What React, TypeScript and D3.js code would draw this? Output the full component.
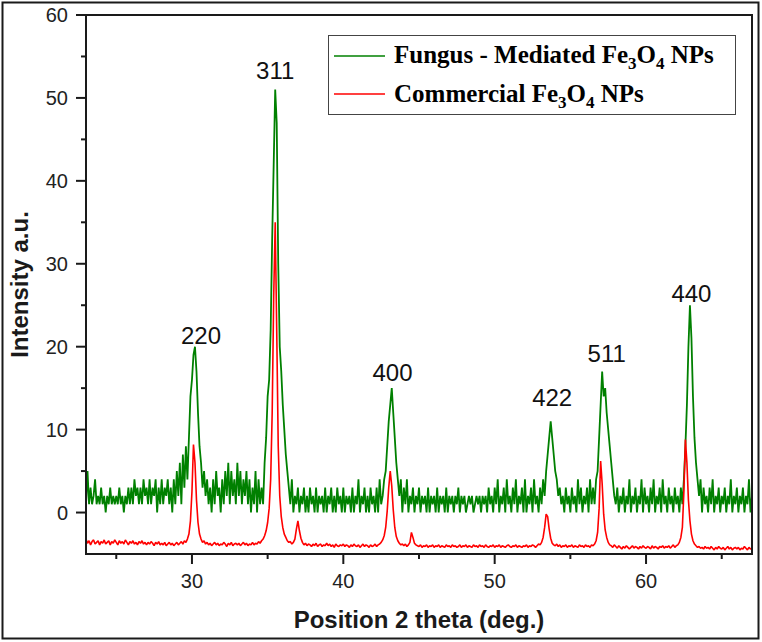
import React from 'react'
import * as d3 from 'd3'

// XRD scan, 0.1 deg steps starting at 23 deg
const THETA_START = 23
const THETA_STEP = 0.1

// Fungus-mediated Fe3O4 (one row per degree, 23..66, then 67)
const fungusCounts = [
  1, 5, 1, 3, 1, 2, 4, 1, 2, 1,
  3, 1, 2, 0, 2, 1, 3, 1, 2, 1,
  2, 1, 3, 1, 2, 0, 2, 1, 3, 1,
  3, 1, 4, 2, 3, 1, 3, 1, 4, 2,
  3, 1, 4, 1, 3, 2, 4, 0, 3, 1,
  4, 1, 3, 2, 4, 1, 3, 0, 4, 1,
  5, 2, 6, 1, 7, 3, 8, 4, 9, 14,
  16, 19, 20, 17, 12, 8, 6, 3, 5, 2,
  4, 1, 3, 0, 4, 1, 5, 2, 3, 0,
  4, 1, 5, 2, 6, 1, 5, 2, 4, 1,
  6, 2, 5, 1, 4, 2, 5, 1, 4, 0,
  3, 1, 5, 0, 4, 1, 3, 1, 6, 9,
  14, 16, 22, 33, 42, 51, 47, 30, 20, 17,
  13, 10, 7, 5, 3, 1, 4, 0, 2, 1,
  3, 0, 2, 1, 3, 0, 2, 0, 3, 1,
  2, 0, 3, 0, 2, 1, 2, 0, 3, 0,
  2, 1, 3, 0, 2, 0, 3, 1, 2, 0,
  3, 0, 2, 1, 2, 0, 3, 0, 2, 1,
  4, 0, 2, 1, 3, 0, 2, 0, 3, 1,
  2, 0, 3, 0, 4, 1, 2, 4, 5, 8,
  11, 13, 15, 12, 9, 6, 4, 2, 4, 0,
  3, 1, 4, 0, 2, 1, 3, 0, 2, 1,
  3, 0, 2, 1, 2, 0, 3, 0, 2, 1,
  2, 0, 3, 0, 2, 1, 2, 0, 3, 0,
  2, 1, 2, 0, 2, 1, 3, 0, 2, 1,
  2, 0, 1, 2, 1, 2, 0, 1, 2, 1,
  2, 0, 2, 1, 2, 0, 3, 1, 2, 0,
  3, 1, 4, 0, 2, 1, 3, 0, 4, 1,
  2, 0, 3, 1, 4, 0, 2, 1, 3, 0,
  4, 0, 2, 1, 3, 0, 4, 1, 2, 0,
  3, 1, 4, 2, 5, 7, 9, 11, 9, 7,
  5, 4, 2, 3, 1, 2, 0, 3, 1, 2,
  0, 3, 1, 2, 0, 4, 1, 3, 0, 2,
  1, 3, 0, 4, 1, 3, 1, 4, 5, 9,
  13, 17, 14, 15, 12, 10, 8, 6, 4, 2,
  1, 3, 0, 2, 1, 3, 0, 2, 1, 4,
  0, 2, 1, 3, 0, 2, 1, 4, 0, 3,
  1, 2, 0, 3, 1, 4, 0, 2, 1, 3,
  0, 4, 1, 2, 0, 3, 1, 2, 0, 3,
  1, 2, 0, 3, 1, 4, 8, 13, 20, 25,
  21, 14, 9, 6, 4, 2, 4, 0, 3, 1,
  2, 0, 3, 1, 4, 0, 2, 1, 3, 0,
  2, 1, 3, 0, 2, 1, 4, 0, 2, 1,
  3, 0, 2, 1, 3, 0, 2, 1, 4, 0,
  2,
]

// Commercial Fe3O4 (same grid)
const commercialCounts = [
  -3.2, -3.7, -3.4, -3.9, -3.5, -3.3, -3.8, -3.6, -3.4, -3.9,
  -3.5, -3.7, -3.3, -3.8, -3.6, -3.4, -3.9, -3.5, -3.7, -3.3,
  -3.6, -3.9, -3.4, -3.7, -3.5, -3.8, -3.3, -3.6, -3.9, -3.5,
  -3.7, -3.4, -3.8, -3.6, -3.9, -3.5, -3.7, -3.4, -3.8, -3.6,
  -3.9, -3.6, -3.8, -3.5, -3.7, -4.0, -3.6, -3.8, -3.5, -3.9,
  -3.7, -3.9, -3.6, -4.0, -3.8, -3.6, -3.9, -3.7, -4.0, -3.8,
  -3.6, -3.9, -3.7, -3.5, -3.8, -3.4, -3.6, -3.2, -2.6, -1.0,
  2.5, 8.2, 6.0, 1.5, -1.2, -2.6, -3.2, -3.6, -3.4, -3.8,
  -3.6, -3.9, -3.7, -4.0, -3.8, -3.6, -3.9, -3.7, -4.0, -3.8,
  -3.9, -3.6, -3.8, -4.1, -3.7, -3.9, -3.6, -4.0, -3.8, -3.7,
  -3.9, -3.7, -4.0, -3.8, -3.6, -3.9, -3.7, -4.0, -3.8, -3.9,
  -3.6, -3.9, -3.7, -3.8, -3.5, -3.7, -3.4, -3.2, -2.8, -2.2,
  -1.2, 0.5, 4.0, 12, 26, 35, 22, 8.0, 2.0, -0.5,
  -1.8, -2.6, -3.0, -3.4, -3.6, -3.5, -3.8, -3.6, -3.2, -2.0,
  -1.0, -2.2, -3.1, -3.6, -3.9, -3.7, -4.0, -3.8, -3.9, -4.1,
  -3.8, -4.0, -3.7, -4.1, -3.9, -3.8, -4.1, -3.9, -4.0, -3.7,
  -4.0, -3.8, -4.1, -3.9, -4.2, -3.8, -4.0, -4.1, -3.9, -4.0,
  -3.8, -4.1, -3.9, -4.0, -4.2, -3.9, -4.1, -3.8, -4.0, -4.1,
  -3.9, -4.2, -4.0, -3.8, -4.1, -3.9, -4.0, -4.2, -3.9, -4.1,
  -4.0, -3.8, -4.1, -3.9, -3.8, -3.6, -3.3, -2.8, -1.8, 0.2,
  3.0, 5.0, 3.2, 0.3, -1.8, -2.9, -3.4, -3.7, -3.9, -3.8,
  -4.0, -3.8, -4.1, -3.9, -3.6, -2.4, -3.0, -3.7, -3.9, -4.0,
  -4.1, -3.9, -4.2, -4.0, -4.1, -3.9, -4.2, -4.0, -4.1, -3.9,
  -4.2, -4.0, -4.1, -3.9, -4.2, -4.0, -4.1, -4.2, -3.9, -4.1,
  -4.0, -4.2, -3.9, -4.1, -4.0, -4.2, -4.1, -3.9, -4.2, -4.0,
  -4.1, -3.9, -4.2, -4.0, -4.1, -4.2, -3.9, -4.1, -4.0, -4.2,
  -3.9, -4.1, -4.0, -4.2, -3.9, -4.1, -4.2, -4.0, -4.1, -3.9,
  -4.2, -4.0, -4.1, -3.9, -4.2, -4.0, -4.1, -4.2, -4.0, -3.9,
  -4.1, -4.2, -4.0, -4.1, -3.9, -4.2, -4.0, -4.1, -4.2, -4.0,
  -4.1, -3.9, -4.2, -4.0, -4.1, -3.9, -4.0, -4.2, -4.0, -3.8,
  -3.9, -3.6, -3.0, -1.8, -0.2, -0.5, -2.0, -3.1, -3.7, -3.9,
  -4.0, -3.8, -4.1, -3.9, -4.2, -4.0, -4.1, -3.9, -4.2, -4.0,
  -4.1, -3.9, -4.2, -4.0, -4.1, -4.2, -3.9, -4.1, -4.0, -4.2,
  -3.9, -4.1, -4.0, -4.2, -3.9, -4.0, -3.8, -3.4, -2.4, 0.5,
  6.2, 3.5, -0.2, -2.1, -3.0, -3.6, -3.9, -4.0, -4.2, -3.9,
  -4.1, -4.3, -4.0, -4.2, -4.4, -4.1, -4.3, -4.0, -4.2, -4.4,
  -4.2, -4.0, -4.3, -4.1, -4.2, -4.4, -4.1, -4.3, -4.0, -4.2,
  -4.3, -4.1, -4.2, -4.4, -4.0, -4.3, -4.1, -4.2, -4.4, -4.1,
  -4.2, -4.0, -4.3, -4.1, -4.2, -4.0, -4.3, -4.1, -3.9, -4.2,
  -4.0, -3.9, -3.6, -3.0, -1.8, 2.5, 8.8, 6.0, 1.5, -1.0,
  -2.6, -3.4, -3.8, -4.0, -4.2, -4.1, -4.3, -4.2, -4.4, -4.1,
  -4.3, -4.2, -4.4, -4.1, -4.3, -4.5, -4.2, -4.4, -4.1, -4.3,
  -4.4, -4.2, -4.5, -4.3, -4.1, -4.4, -4.2, -4.5, -4.3, -4.2,
  -4.4, -4.2, -4.5, -4.3, -4.4, -4.1, -4.3, -4.5, -4.2, -4.4,
  -4.3,
]

const xMajorTicks = [30, 40, 50, 60]
const xMinorTicks = [25, 35, 45, 55, 65]
const yMajorTicks = [0, 10, 20, 30, 40, 50, 60]
const yMinorTicks = [5, 15, 25, 35, 45, 55]

// hkl labels: position in data units (label centre, text baseline)
const peakLabels = [
  { hkl: '220', theta: 30.6, at: 20.3 },
  { hkl: '311', theta: 35.5, at: 52.3 },
  { hkl: '400', theta: 43.25, at: 15.9 },
  { hkl: '422', theta: 53.8, at: 12.8 },
  { hkl: '511', theta: 57.4, at: 18.1 },
  { hkl: '440', theta: 63.0, at: 25.4 },
]

const GREEN = '#008000'
const RED = '#ff0000'
const INK = '#1a1a1a'
const SANS = '"Liberation Sans", Arial, sans-serif'
const SERIF = '"Liberation Serif", "Times New Roman", serif'

const W = 762
const H = 642
const PLOT = { left: 86, right: 752, top: 15, bottom: 554 }

export default function App() {
  const x = d3.scaleLinear().domain([23, 67]).range([PLOT.left, PLOT.right])
  const y = d3.scaleLinear().domain([-5, 60]).range([PLOT.bottom, PLOT.top])

  const toPoints = (vals: number[]) => vals.map((v, i) => [THETA_START + i * THETA_STEP, v] as [number, number])
  const line = d3.line<[number, number]>().x((d) => x(d[0])).y((d) => y(d[1]))

  const greenPath = line(toPoints(fungusCounts)) || ''
  const redPath = line(toPoints(commercialCounts)) || ''

  return (
    <svg width={W} height={H} style={{ position: 'absolute', left: 0, top: 0, background: '#fff' }}>
      <rect x={0} y={0} width={W} height={H} fill="#fff" />
      {/* outer frame */}
      <rect x={2.5} y={2.5} width={756} height={636} fill="none" stroke={INK} strokeWidth={2} />

      <defs>
        <clipPath id="plot-clip">
          <rect x={PLOT.left} y={PLOT.top} width={PLOT.right - PLOT.left} height={PLOT.bottom - PLOT.top} />
        </clipPath>
      </defs>

      <g clipPath="url(#plot-clip)">
        <path d={greenPath} fill="none" stroke={GREEN} strokeWidth={1.8} strokeLinejoin="bevel" />
        <path d={redPath} fill="none" stroke={RED} strokeWidth={1.6} strokeLinejoin="bevel" />
      </g>

      {/* plot box */}
      <rect x={PLOT.left} y={PLOT.top} width={PLOT.right - PLOT.left} height={PLOT.bottom - PLOT.top}
        fill="none" stroke={INK} strokeWidth={2} />

      {/* x ticks */}
      {xMajorTicks.map((t) => (
        <g key={'xM' + t}>
          <line x1={x(t)} x2={x(t)} y1={PLOT.bottom} y2={PLOT.bottom + 10} stroke={INK} strokeWidth={2} />
          <text x={x(t)} y={588} textAnchor="middle" fontFamily={SANS} fontSize={20} fill="#222">{t}</text>
        </g>
      ))}
      {xMinorTicks.map((t) => (
        <line key={'xm' + t} x1={x(t)} x2={x(t)} y1={PLOT.bottom} y2={PLOT.bottom + 5} stroke={INK} strokeWidth={2} />
      ))}

      {/* y ticks */}
      {yMajorTicks.map((t) => (
        <g key={'yM' + t}>
          <line x1={PLOT.left - 10} x2={PLOT.left} y1={y(t)} y2={y(t)} stroke={INK} strokeWidth={2} />
          <text x={68} y={y(t)} dy="0.35em" textAnchor="end" fontFamily={SANS} fontSize={20} fill="#222">{t}</text>
        </g>
      ))}
      {yMinorTicks.map((t) => (
        <line key={'ym' + t} x1={PLOT.left - 5} x2={PLOT.left} y1={y(t)} y2={y(t)} stroke={INK} strokeWidth={2} />
      ))}

      {/* axis titles */}
      <text x={(PLOT.left + PLOT.right) / 2} y={628} textAnchor="middle" fontFamily={SANS} fontWeight="bold"
        fontSize={24} fill={INK}>Position 2 theta (deg.)</text>
      <text transform={`translate(28,${(PLOT.top + PLOT.bottom) / 2}) rotate(-90)`} textAnchor="middle"
        fontFamily={SANS} fontWeight="bold" fontSize={24} fill={INK}>Intensity a.u.</text>

      {/* peak labels */}
      {peakLabels.map((p) => (
        <text key={p.hkl} x={x(p.theta)} y={y(p.at)} textAnchor="middle" fontFamily={SANS} fontSize={24} fill="#111">
          {p.hkl}
        </text>
      ))}

      {/* legend */}
      <rect x={328.5} y={35.5} width={407} height={79} fill="#fff" stroke="#444" strokeWidth={1} />
      <line x1={334} x2={385} y1={56} y2={56} stroke={GREEN} strokeWidth={1.3} />
      <line x1={334} x2={385} y1={94} y2={94} stroke={RED} strokeWidth={1.3} />
      <text x={394} y={63} fontFamily={SERIF} fontWeight="bold" fontSize={25} fill="#000">
        Fungus - Mediated Fe<tspan fontSize={17} dy={6}>3</tspan><tspan dy={-6}>O</tspan>
        <tspan fontSize={17} dy={6}>4</tspan><tspan dy={-6}>{' NPs'}</tspan>
      </text>
      <text x={394} y={102} fontFamily={SERIF} fontWeight="bold" fontSize={25} fill="#000">
        Commercial Fe<tspan fontSize={17} dy={6}>3</tspan><tspan dy={-6}>O</tspan>
        <tspan fontSize={17} dy={6}>4</tspan><tspan dy={-6}>{' NPs'}</tspan>
      </text>
    </svg>
  )
}
